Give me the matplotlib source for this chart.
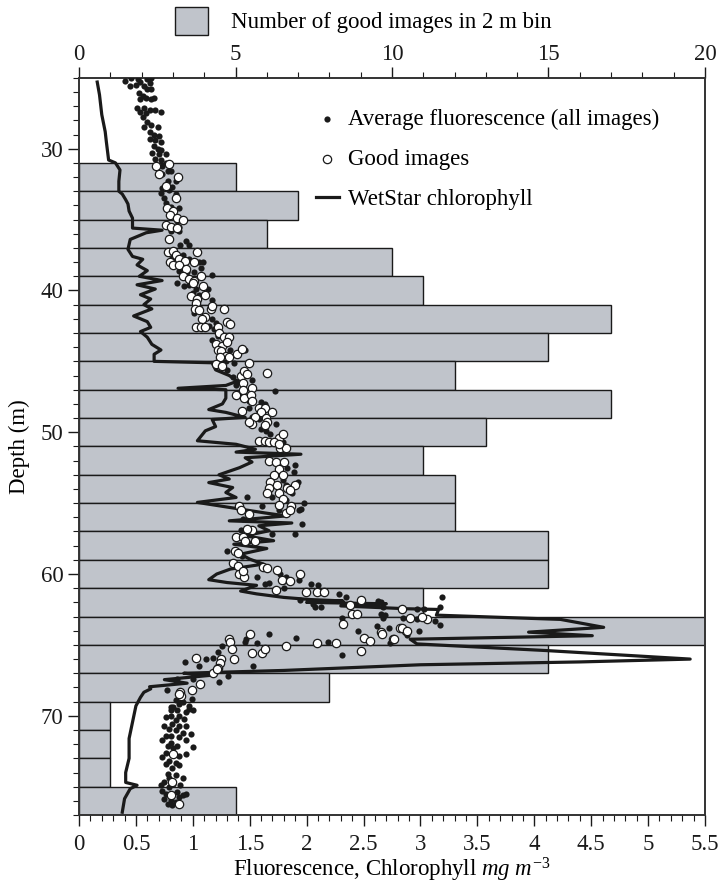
import numpy as np
import matplotlib
matplotlib.use("Agg")
import matplotlib.pyplot as plt
from matplotlib.ticker import MultipleLocator

plt.rcParams['font.family'] = ['Liberation Serif', 'DejaVu Serif']
plt.rcParams['mathtext.fontset'] = 'custom'
plt.rcParams['mathtext.rm'] = 'Liberation Serif'
plt.rcParams['mathtext.it'] = 'Liberation Serif:italic'

# number of good images per 2 m depth bin (bin top depth)
bin_start = [31, 33, 35, 37, 39, 41, 43, 45, 47, 49, 51, 53, 55, 57, 59, 61, 63, 65, 67, 69, 71, 73, 75]
bin_count = [5, 7, 6, 10, 11, 17, 15, 12, 17, 13, 11, 12, 12, 15, 15, 11, 20, 15, 8, 1, 1, 1, 5]

# WetStar chlorophyll profile
chl_depth = [25.3, 26.2, 27.6, 28.8, 29.5, 30.8, 31.0, 31.5, 32.3, 33.0, 33.2, 33.6, 33.9, 34.4, 34.9,
             35.6, 35.75, 35.93, 36.4, 37.1, 37.6, 37.8, 38.2, 38.6, 39.0, 39.3, 39.6, 39.9, 40.3, 40.6,
             41.0, 41.3, 41.8, 42.2, 42.6, 42.9, 43.3, 43.8, 44.2, 44.5, 45.0, 45.1, 45.6, 46.0, 46.4,
             46.7, 46.9, 47.0, 47.6, 48.0, 48.4, 48.6, 48.95, 49.1, 49.6, 49.9, 50.6, 50.85, 51.2, 51.4,
             51.55, 51.8, 52.1, 52.5, 53.0, 53.3, 53.55, 53.9, 54.25, 54.6, 54.95, 55.3, 55.7, 55.9, 56.25,
             56.4, 56.6, 56.95, 57.3, 57.65, 57.9, 58.2, 58.6, 58.95, 59.3, 59.65, 60.0, 60.4, 60.6, 60.8,
             61.2, 61.4, 61.65, 61.8, 61.9, 62.0, 62.1, 62.25, 62.45, 62.5, 62.9, 63.2, 63.76, 64.1, 64.35,
             64.6, 64.93, 65.4, 66.0, 66.2, 66.4, 66.8, 67.0, 67.15, 67.45, 67.7, 67.95, 68.1, 68.34, 68.7,
             69.3, 70.45, 71.6, 73.0, 74.0, 74.7, 74.9, 75.14, 75.85, 76.8]
chl_value = [0.16, 0.18, 0.20, 0.23, 0.24, 0.26, 0.32, 0.36, 0.35, 0.35, 0.38, 0.41, 0.43, 0.44, 0.47,
             0.47, 0.73, 0.59, 0.45, 0.43, 0.47, 0.56, 0.51, 0.60, 0.53, 0.73, 0.51, 0.67, 0.54, 0.63,
             0.57, 0.64, 0.48, 0.60, 0.63, 0.54, 0.60, 0.64, 0.72, 0.66, 0.66, 1.17, 1.20, 1.32, 1.39,
             1.29, 0.87, 1.29, 1.29, 1.26, 1.14, 1.29, 1.46, 1.17, 1.20, 1.11, 1.04, 1.38, 1.55, 1.38,
             1.95, 1.46, 1.52, 1.41, 1.23, 1.32, 1.14, 1.35, 1.29, 1.38, 1.04, 1.32, 1.64, 1.82, 1.32,
             1.87, 1.58, 1.67, 1.46, 1.71, 1.36, 1.65, 1.42, 1.50, 1.62, 1.33, 1.21, 1.14, 1.30, 1.56,
             1.42, 1.56, 1.80, 2.03, 2.32, 2.00, 2.70, 2.30, 2.88, 3.16, 3.14, 4.23, 4.61, 3.95, 4.51,
             2.91, 2.97, 4.11, 5.37, 4.40, 3.00, 1.80, 0.92, 1.15, 0.75, 0.95, 0.62, 0.63, 0.57, 0.54,
             0.50, 0.47, 0.44, 0.44, 0.41, 0.41, 0.51, 0.45, 0.40, 0.38]

# average fluorescence of all images (depth, value)
all_pts = [
    (25.2, 0.40), (25.0, 0.46), (25.6, 0.45), (25.1, 0.52), (25.5, 0.50), (25.3, 0.54), (25.1, 0.60),
    (25.0, 0.63), (25.4, 0.62), (25.6, 0.57), (25.8, 0.60), (25.8, 0.63), (26.1, 0.53), (26.3, 0.56),
    (26.5, 0.54), (26.4, 0.59), (26.5, 0.63), (26.4, 0.66), (27.1, 0.51), (27.1, 0.57), (27.4, 0.54),
    (27.5, 0.59), (27.3, 0.62), (27.3, 0.67), (27.4, 0.72), (27.8, 0.56), (28.1, 0.60), (28.3, 0.63),
    (28.5, 0.69), (28.5, 0.57), (28.8, 0.62), (29.0, 0.66), (29.1, 0.70), (29.3, 0.62), (29.4, 0.67),
    (29.5, 0.72), (29.8, 0.66), (30.0, 0.69), (30.1, 0.72), (30.3, 0.64), (30.4, 0.70), (30.4, 0.76),
    (30.7, 0.67), (30.8, 0.72), (31.0, 0.76), (31.1, 0.79), (31.2, 0.73), (31.6, 0.78), (31.6, 0.81),
    (31.8, 0.73), (32.3, 0.78), (32.3, 0.85), (32.7, 0.82), (32.8, 0.73), (32.9, 0.79), (33.1, 0.72),
    (33.5, 0.75), (33.2, 0.85), (33.8, 0.76), (34.1, 0.81), (34.2, 0.88), (34.4, 0.83), (34.7, 0.79),
    (35.1, 0.86), (35.5, 0.88), (35.6, 0.82), (35.8, 0.88),
    (35.8, 0.81), (36.5, 0.94), (36.8, 0.97), (36.8, 0.89), (37.7, 0.82), (37.5, 0.91), (37.8, 0.97),
    (38.0, 1.05), (38.0, 1.09), (38.0, 0.79), (38.6, 0.88), (38.7, 0.95), (38.7, 1.01), (38.4, 1.07),
    (38.9, 1.17), (39.5, 0.86), (39.7, 0.92), (39.6, 0.97), (39.9, 1.03), (39.9, 1.13), (40.2, 1.00),
    (40.3, 1.05), (40.7, 1.17), (41.0, 1.16), (41.2, 1.05), (41.6, 1.01), (42.0, 1.17), (42.3, 1.20),
    (42.5, 1.14), (42.7, 1.19), (43.2, 1.22), (43.5, 1.17), (43.8, 1.29), (44.2, 1.33), (44.2, 1.46),
    (45.0, 1.29), (45.1, 1.36), (45.6, 1.30), (46.1, 1.35), (46.4, 1.41), (46.3, 1.52), (46.7, 1.38),
    (47.2, 1.41), (47.8, 1.49), (47.9, 1.60), (48.0, 1.63), (48.3, 1.49), (48.5, 1.58), (47.1, 1.72),
    (48.9, 1.52), (49.1, 1.58), (49.4, 1.73), (49.8, 1.60), (49.9, 1.64), (50.1, 1.68), (50.7, 1.79),
    (51.2, 1.82), (52.3, 1.90), (52.5, 1.83), (52.8, 1.89), (53.4, 1.79), (53.7, 1.82), (54.3, 1.87),
    (53.5, 1.92), (54.6, 1.70), (54.8, 1.82), (54.6, 1.48), (55.2, 1.61), (55.5, 1.76), (55.4, 1.95),
    (55.0, 1.98), (55.5, 1.93), (56.5, 1.96), (57.2, 1.90), (56.1, 1.44), (56.9, 1.42), (57.2, 1.70),
    (58.4, 1.30), (58.7, 1.43), (60.2, 1.56), (60.7, 1.63), (60.6, 1.67), (60.0, 1.77), (60.2, 1.82),
    (60.5, 1.80), (60.4, 1.93), (61.0, 1.80), (60.7, 2.04), (60.8, 2.10), (61.4, 2.28), (62.1, 2.06),
    (62.3, 2.07), (62.3, 2.13), (61.8, 1.94), (61.6, 2.35), (61.9, 2.63), (62.3, 2.67), (62.5, 2.85),
    (62.5, 2.97), (62.5, 3.03), (62.8, 2.65), (63.1, 2.67), (63.1, 2.85), (63.2, 2.97), (63.1, 2.31),
    (61.6, 3.19), (62.0, 2.65), (62.9, 2.69), (62.3, 3.17), (63.3, 3.13), (63.6, 3.17), (63.8, 2.72),
    (64.3, 2.88),
    (64.6, 1.47), (64.8, 1.46), (64.9, 1.56), (64.2, 1.67), (64.5, 1.91), (64.8, 2.19), (65.7, 2.31),
    (64.0, 2.45), (63.7, 2.62), (64.0, 2.99), (64.9, 2.73), (66.5, 1.53), (65.05, 1.26), (65.5, 1.22),
    (65.9, 1.18), (66.0, 1.12), (66.5, 1.05), (66.2, 0.93), (67.2, 1.31), (67.6, 1.23), (67.4, 1.00),
    (67.4, 0.86), (68.8, 0.89), (68.85, 0.99), (68.2, 0.77), (69.4, 0.81),
    (68.9, 0.85), (69.2, 0.88), (69.0, 0.91), (69.4, 0.83), (69.6, 0.86), (69.6, 0.81), (69.5, 0.97),
    (69.7, 0.94), (69.6, 1.00), (70.0, 0.88), (70.2, 0.92), (70.3, 0.85), (70.1, 0.76), (70.6, 0.82),
    (70.7, 0.88), (70.7, 0.75), (70.9, 0.79), (71.0, 0.85), (71.2, 0.91), (71.4, 0.81), (71.5, 0.88),
    (71.4, 0.76), (71.7, 0.73), (71.9, 0.81), (72.1, 0.86), (72.1, 0.78), (72.3, 0.83), (71.7, 0.94),
    (72.2, 1.00), (72.6, 0.76), (72.7, 0.82), (72.8, 0.88), (72.7, 0.94), (72.9, 0.73), (73.2, 0.79),
    (73.3, 0.85), (73.4, 0.76), (73.5, 0.88), (73.7, 0.82), (74.1, 0.78), (74.2, 0.85), (74.4, 0.79),
    (74.4, 0.91), (74.7, 0.75), (74.8, 0.83), (74.9, 0.89), (75.0, 0.79), (75.3, 0.73), (75.4, 0.86),
    (75.5, 0.76), (75.6, 0.82), (75.6, 0.91), (75.85, 0.75), (75.97, 0.81), (75.7, 0.88), (76.2, 0.78),
    (76.1, 0.85), (76.3, 0.82), (75.5, 0.94), (74.9, 0.72), (69.3, 0.97), (70.0, 0.81), (70.7, 0.94),
    (71.3, 0.98),
]

# fluorescence of good images only (depth, value)
good_pts = [
    (31.2, 0.68), (31.1, 0.79), (31.8, 0.70), (32.0, 0.87), (32.6, 0.76), (33.5, 0.85), (34.2, 0.77),
    (34.4, 0.83), (34.7, 0.80), (34.9, 0.86), (35.0, 0.91), (35.4, 0.76), (35.5, 0.81), (35.6, 0.86),
    (36.4, 0.79), (37.3, 0.78), (37.2, 0.83), (37.5, 0.85), (37.8, 0.88), (37.9, 0.93), (37.3, 1.04),
    (38.0, 0.80), (38.2, 0.83), (38.2, 0.88), (38.0, 1.01), (38.5, 0.94), (39.0, 0.91), (39.2, 0.97),
    (39.3, 1.01), (39.0, 1.07), (39.5, 1.00), (39.7, 1.09), (40.3, 1.11), (40.4, 0.98), (40.6, 1.04),
    (40.9, 1.03), (41.3, 1.02), (41.4, 1.05), (41.3, 1.16), (41.1, 1.17), (41.3, 1.27), (41.9, 1.11),
    (42.0, 1.08), (42.6, 1.03), (42.6, 1.07), (42.6, 1.11), (42.6, 1.22), (42.2, 1.30), (42.4, 1.33),
    (43.0, 1.23), (43.3, 1.27), (43.3, 1.32), (43.8, 1.20), (43.9, 1.26), (43.6, 1.30), (44.2, 1.22),
    (44.3, 1.25), (44.6, 1.29), (44.7, 1.32), (44.5, 1.39), (44.1, 1.43), (44.7, 1.24), (45.2, 1.20),
    (45.3, 1.26), (45.1, 1.49), (45.8, 1.65), (46.0, 1.42), (45.7, 1.45), (45.9, 1.48), (46.5, 1.44),
    (46.9, 1.52),
    (47.4, 1.38), (47.0, 1.44), (47.6, 1.45), (47.4, 1.51), (47.8, 1.52), (48.5, 1.43), (48.3, 1.58),
    (48.3, 1.63), (48.6, 1.60), (48.9, 1.55), (49.0, 1.64), (48.6, 1.70), (49.3, 1.65), (49.4, 1.52),
    (49.3, 1.49), (49.5, 1.63), (50.4, 1.76), (50.1, 1.79), (50.6, 1.58), (50.6, 1.63), (50.7, 1.67),
    (50.7, 1.71), (51.1, 1.77), (51.1, 1.82), (50.8, 1.76), (52.0, 1.67), (52.1, 1.73), (52.1, 1.80),
    (52.6, 1.76), (53.0, 1.79), (53.0, 1.71), (53.5, 1.68), (53.7, 1.74), (53.7, 1.90), (53.9, 1.67),
    (53.9, 1.83), (54.3, 1.76), (54.3, 1.65), (54.1, 1.85), (54.7, 1.79), (55.1, 1.76), (55.2, 1.41),
    (55.2, 1.86), (55.7, 1.82), (55.5, 1.85), (55.8, 1.49), (55.5, 1.42), (56.9, 1.52), (56.8, 1.48),
    (57.4, 1.38), (57.4, 1.44), (57.7, 1.55), (57.7, 1.46),
    (58.4, 1.37), (58.5, 1.40), (59.2, 1.35), (59.4, 1.40), (60.0, 1.41), (60.2, 1.45), (59.8, 1.44),
    (59.5, 1.62), (59.6, 1.65), (59.7, 1.74), (60.0, 1.94), (60.4, 1.78), (60.5, 1.85), (61.1, 1.73),
    (61.3, 1.99), (61.3, 2.09), (61.3, 2.15), (61.8, 2.48), (62.2, 2.38), (62.8, 2.40), (62.8, 2.44),
    (63.5, 2.32), (62.5, 2.84), (63.1, 2.91), (63.2, 3.06), (63.0, 3.01), (63.8, 2.82), (64.0, 2.87),
    (64.6, 2.76), (64.1, 2.65),
    (64.6, 1.32), (64.8, 1.33), (64.2, 1.50), (65.3, 1.34), (66.0, 1.36), (65.6, 1.52), (65.6, 1.61),
    (65.3, 1.63), (65.1, 1.82), (64.9, 2.09), (64.9, 2.26), (64.5, 2.50), (64.7, 2.56), (65.4, 2.48),
    (64.2, 2.66), (64.6, 2.77), (63.8, 2.84), (64.0, 2.88), (65.9, 1.03), (66.0, 1.25), (66.3, 1.24),
    (66.6, 1.22), (67.0, 1.18), (67.75, 1.06), (68.2, 0.99), (68.3, 0.89), (66.7, 1.21), (68.6, 0.90),
    (68.45, 0.88), (72.7, 0.83), (74.7, 0.82), (75.6, 0.81), (76.2, 0.88),
]

all_depth = [p[0] for p in all_pts]
all_value = [p[1] for p in all_pts]
good_depth = [p[0] for p in good_pts]
good_value = [p[1] for p in good_pts]

FS = 16.5

fig = plt.figure(figsize=(7.19, 8.84), dpi=100)
ax = fig.add_axes([0.1099, 0.078, 0.8706, 0.834])
ax_top = ax.twiny()

# bars on the top (count) axis
bars = ax_top.barh(bin_start, bin_count, height=2, align='edge', color='#c0c4cb',
                   edgecolor='#1a1a1a', linewidth=1.0, label='Number of good images in 2 m bin')
ax_top.set_xlim(0, 20)
ax.set_zorder(ax_top.get_zorder() + 1)
ax.patch.set_visible(False)

ax.scatter(all_value, all_depth, s=20, color='#1a1a1a', linewidths=0, zorder=3,
           label='Average fluorescence (all images)')
ax.plot(chl_value, chl_depth, color='#1a1a1a', lw=2.3, zorder=4, label='WetStar chlorophyll')
ax.scatter(good_value, good_depth, s=36, facecolor='white', edgecolor='#1a1a1a', linewidths=0.9,
           zorder=5, label='Good images')

ax.set_xlim(0, 5.5)
ax.set_ylim(77, 25)
ax_top.set_ylim(77, 25)

ax.xaxis.set_minor_locator(MultipleLocator(0.1))
ax.yaxis.set_minor_locator(MultipleLocator(1))
ax_top.xaxis.set_major_locator(MultipleLocator(5))
ax_top.xaxis.set_minor_locator(MultipleLocator(1))
ax.set_xticks(np.arange(0, 5.51, 0.5))
ax.set_xticklabels(['0', '0.5', '1', '1.5', '2', '2.5', '3', '3.5', '4', '4.5', '5', '5.5'])
ax.set_yticks([30, 40, 50, 60, 70])

for a in (ax, ax_top):
    a.tick_params(which='major', direction='out', length=8, width=1.0, labelsize=FS, colors='#1a1a1a')
    a.tick_params(which='minor', direction='out', length=4, width=0.8, colors='#1a1a1a')
    for s in a.spines.values():
        s.set_color('#333333')
        s.set_linewidth(1.2)
ax.tick_params(axis='y', which='both', right=False, pad=3)
ax.tick_params(axis='x', pad=6)
ax_top.tick_params(axis='x', pad=1)

ax.set_ylabel('Depth (m)', fontsize=FS, labelpad=8)
ax.set_xlabel('Fluorescence, Chlorophyll $mg\\ m^{-3}$', fontsize=FS, labelpad=0)

handles, labels = ax.get_legend_handles_labels()
order = [labels.index('Average fluorescence (all images)'), labels.index('Good images'),
         labels.index('WetStar chlorophyll')]
ax.legend([handles[i] for i in order], [labels[i] for i in order], loc='upper left',
          bbox_to_anchor=(0.345, 0.986), frameon=False, fontsize=FS, labelspacing=0.82,
          handlelength=1.0, handletextpad=0.4, markerscale=1.0)

fig.legend(handles=[bars], loc='upper center', bbox_to_anchor=(0.505, 1.008), frameon=False,
           fontsize=FS, handlelength=1.45, handleheight=1.5, handletextpad=1.0, borderpad=0.1)

fig.savefig('out.png', dpi=100)
